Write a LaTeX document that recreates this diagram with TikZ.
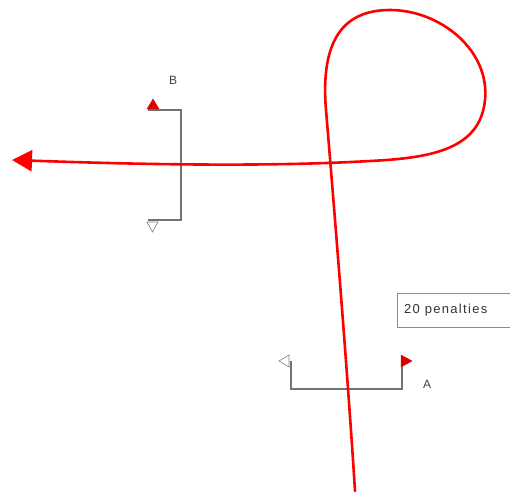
\documentclass[tikz,border=0pt]{standalone}
\usepackage{fontspec}
\setmainfont{Liberation Sans}
\usetikzlibrary{arrows.meta}
\begin{document}
\begin{tikzpicture}[x=1pt,y=-1pt,
  gate/.style={draw=black!55, line width=1.1pt},
  flagred/.style={fill=red!85!black, draw=red!85!black, line width=0.4pt},
  flagwhite/.style={fill=white, draw=gray, line width=0.6pt},
  course/.style={draw=red, line width=2.6pt, line cap=round},
  lbl/.style={font=\fontsize{12}{14}\selectfont, text=black!75, inner sep=0pt}]
\useasboundingbox (0,0) rectangle (510,493);
% gate B
\coordinate (B1) at (148,110);
\coordinate (B2) at (181,110);
\coordinate (B3) at (181,220);
\coordinate (B4) at (148,220);
\draw[gate] (B1) -- (B2) -- (B3) -- (B4);
\filldraw[flagred] (147,109) -- (153,99) -- (159,109) -- cycle;
\filldraw[flagwhite] (147,222) -- (152.5,232) -- (158,222) -- cycle;
\node[lbl] (labB) at (173,80) {B};
% gate A
\coordinate (A1) at (291,361);
\coordinate (A2) at (291,389);
\coordinate (A3) at (402,389);
\coordinate (A4) at (402,361);
\draw[gate] (A1) -- (A2) -- (A3) -- (A4);
\filldraw[flagwhite] (289,355) -- (279,361) -- (289,367) -- cycle;
\filldraw[flagred] (401,355) -- (412,361) -- (401,367) -- cycle;
\node[lbl] (labA) at (427,384) {A};
% penalties box
\draw[black!45, line width=0.8pt] (397,293) rectangle (520,327);
\node[anchor=west, inner sep=0pt, text=black!80,
  font=\fontsize{13}{15}\selectfont\addfontfeature{LetterSpace=10}] (pen) at (404,310) {20 penalties};
% course
\coordinate (start) at (355,491);
\coordinate (up) at (326,110);
\coordinate (top) at (390,10);
\coordinate (right) at (485,100);
\coordinate (back) at (370,161);
\coordinate (finish) at (12,160);
\draw[course, -{Triangle[length=20pt,width=21pt]}]
  (start) .. controls (348,380) and (336,230) .. (up)
  .. controls (320,38) and (345,10) .. (top)
  .. controls (440,10) and (490,50) .. (right)
  .. controls (480,150) and (430,158) .. (back)
  .. controls (250,168) and (100,163) .. (finish);
\end{tikzpicture}
\end{document}
